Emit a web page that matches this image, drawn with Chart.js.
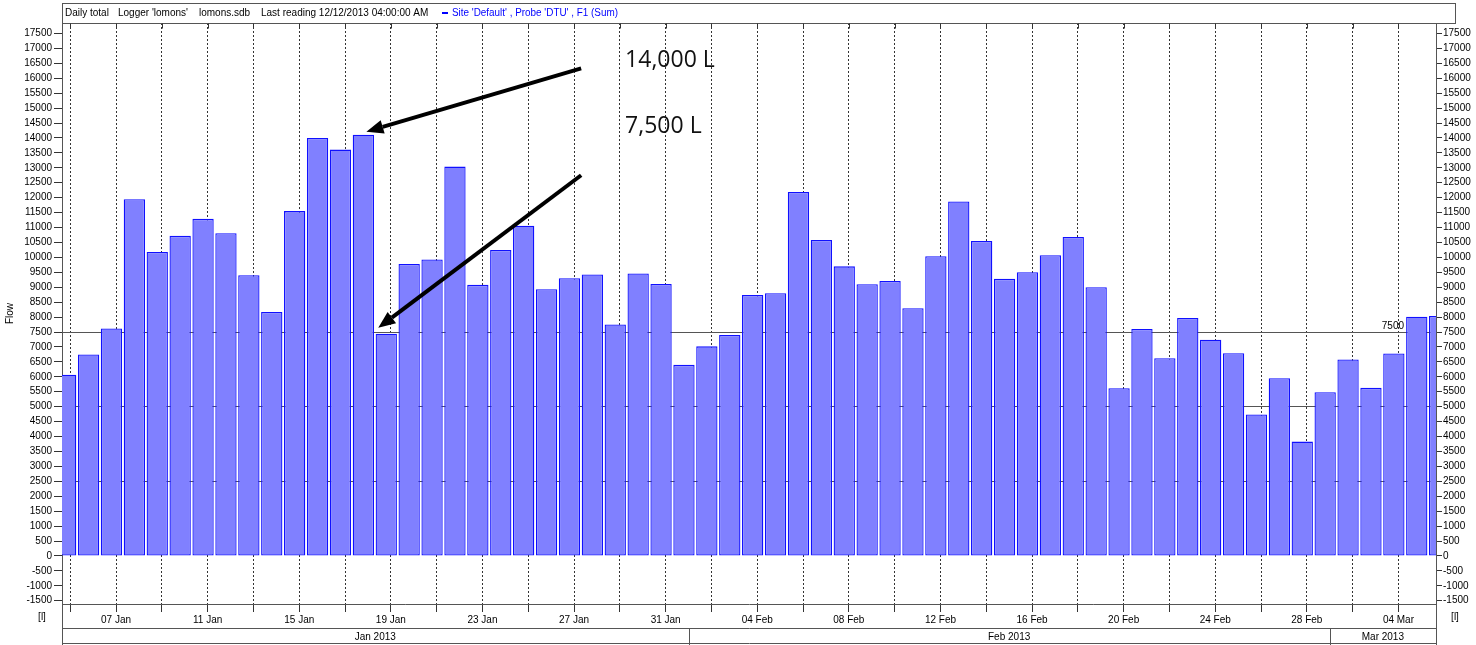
<!DOCTYPE html>
<html>
<head>
<meta charset="utf-8">
<title>Daily total - lomons</title>
<script src="https://cdn.jsdelivr.net/npm/chart.js@4.4.1/dist/chart.umd.min.js"></script>
<style>
html,body{margin:0;padding:0;background:#ffffff;}
#wrap{width:1476px;height:645px;}
</style>
</head>
<body>
<div id="wrap"><canvas id="flowChart" width="1476" height="645"></canvas></div>
<script>
// ===========================================
// DATA
// ===========================================

// Daily totals [l], one bar per day, first bar = 04 Jan 2013
const flow = [
    6070, 6750, 7620, 11950, 10180, 10720, 11290, 10810, 9400, 8170,
    11550, 14000, 13610, 14110, 7440, 9780, 9930, 13040, 9080, 10250,
    11060, 8930, 9300, 9430, 7750, 9460, 9110, 6400, 7020, 7400,
    8740, 8800, 12190, 10580, 9700, 9100, 9210, 8300, 10040, 11870,
    10550, 9280, 9500, 10070, 10680, 9000, 5620, 7600, 6620, 7970,
    7240, 6790, 4740, 5950, 3830, 5480, 6580, 5630, 6780, 8010,
    8040
];

// days after 01 Jan 2013
const FIRST_DAY = 3;
// logger day ends 04:00, bars sit right of midnight
const BAR_SHIFT = 0.8;

// visible x range (days after 01 Jan 2013)
const X_MIN = 3.64;
const X_MAX = 63.64;

// Y range
const Y_MIN = -1610;
const Y_MAX = 17850;

// Tick labels
const monthNames = ["Jan", "Feb", "Mar"];
const monthLabels = ["Jan 2013", "Feb 2013", "Mar 2013"];
const monthStarts = [0, 31, 59];

const yTicks = [];
for (let v = -1500; v <= 17500; v += 500) yTicks.push(v);

const xTicks = [];
for (let d = 4; d <= 62; d += 2) xTicks.push(d);

// Reference lines
const refLines = [2500, 5000, 7500];

// Annotations
const noteText = ["14,000 L", "7,500 L"];
const noteBar = [13, 14];

// ===========================================
// HELPERS
// ===========================================

function dayLabel(d){

    let m = 0;
    for (let i = 0; i < monthStarts.length; i++) {
        if (d >= monthStarts[i]) m = i;
    }
    const day = d - monthStarts[m] + 1;
    return (day < 10 ? "0" + day : "" + day) + " " + monthNames[m];

}

const bars = flow.map((v, i) => ({ x: FIRST_DAY + i + BAR_SHIFT, y: v }));

// ===========================================
// OVERLAY (header, month row, notes)
// ===========================================

const overlay = {

    id: "overlay",

    afterDraw(chart){

        const ctx = chart.ctx;
        const area = chart.chartArea;
        const x = chart.scales.x;
        const y = chart.scales.y;
        const H = chart.height;

        const L = Math.round(area.left) + 0.5;
        const R = Math.round(area.right) + 0.5;
        const T = Math.round(area.top) + 0.5;
        const B = Math.round(area.bottom) + 0.5;

        ctx.save();

        ctx.strokeStyle = "#555555";
        ctx.lineWidth = 1;

        // header box
        ctx.strokeRect(L, 3.5, R + 19 - L, T - 3.5);

        ctx.font = "10px 'Liberation Sans'";
        ctx.fillStyle = "#000000";
        ctx.textBaseline = "middle";
        ctx.textAlign = "left";

        ctx.fillText("Daily total", 65, 13.5);
        ctx.fillText("Logger 'lomons'", 118, 13.5);
        ctx.fillText("lomons.sdb", 199, 13.5);
        ctx.fillText("Last reading 12/12/2013 04:00:00 AM", 261, 13.5);

        ctx.fillStyle = "#0000ff";
        ctx.fillRect(442, 12, 6, 2);

        const series = "Site 'Default' , Probe 'DTU' , F1 (Sum)";
        const sw = ctx.measureText(series).width;
        ctx.save();
        ctx.translate(452, 13.5);
        ctx.scale(166 / sw, 1);
        ctx.fillText(series, 0, 0);
        ctx.restore();

        // top ticks
        ctx.strokeStyle = "#333333";
        ctx.beginPath();
        x.ticks.forEach(t => {
            const px = Math.round(x.getPixelForValue(t.value)) + 0.5;
            ctx.moveTo(px, T);
            ctx.lineTo(px, T + 5);
        });
        ctx.stroke();

        // side borders down to month row
        ctx.strokeStyle = "#555555";
        ctx.beginPath();
        ctx.moveTo(L, B);
        ctx.lineTo(L, H);
        ctx.moveTo(R, B);
        ctx.lineTo(R, H);
        ctx.moveTo(L, B + 24);
        ctx.lineTo(R, B + 24);
        ctx.moveTo(L, H - 1.5);
        ctx.lineTo(R, H - 1.5);
        ctx.stroke();

        // month row
        ctx.fillStyle = "#000000";
        ctx.textAlign = "center";
        for (let i = 0; i < monthStarts.length; i++) {
            let a = x.getPixelForValue(monthStarts[i]);
            let b = i + 1 < monthStarts.length ? x.getPixelForValue(monthStarts[i + 1]) : area.right;
            a = Math.max(a, area.left);
            b = Math.min(b, area.right);
            if (a > area.left + 1) {
                ctx.beginPath();
                ctx.moveTo(Math.round(a) + 0.5, B + 24);
                ctx.lineTo(Math.round(a) + 0.5, H);
                ctx.stroke();
            }
            ctx.fillText(monthLabels[i], (a + b) / 2, B + 32.5);
        }

        // unit labels
        ctx.fillText("[l]", area.left - 20, B + 13);
        ctx.fillText("[l]", area.right + 19, B + 13);

        // reference label
        ctx.textAlign = "right";
        ctx.fillText("7500", area.right - 32, y.getPixelForValue(7500) - 6);

        // ===============================
        // Notes with arrows
        // ===============================

        ctx.font = "23px 'Open Sans'";
        ctx.textAlign = "left";
        ctx.fillStyle = "#111111";
        ctx.fillText(noteText[0], x.getPixelForValue(28.23), y.getPixelForValue(16600));
        ctx.fillText(noteText[1], x.getPixelForValue(28.23), y.getPixelForValue(14390));

        const tips = [
            [x.getPixelForValue(bars[noteBar[0]].x) + 3, y.getPixelForValue(flow[noteBar[0]]) - 3],
            [x.getPixelForValue(bars[noteBar[1]].x) - 8, y.getPixelForValue(flow[noteBar[1]]) - 6]
        ];
        const starts = [
            [x.getPixelForValue(26.31), y.getPixelForValue(16330)],
            [x.getPixelForValue(26.31), y.getPixelForValue(12750)]
        ];

        ctx.strokeStyle = "#000000";
        ctx.fillStyle = "#000000";
        ctx.lineWidth = 4;
        ctx.lineCap = "butt";

        for (let i = 0; i < tips.length; i++) {
            const [sx, sy] = starts[i];
            const [tx, ty] = tips[i];
            const ang = Math.atan2(ty - sy, tx - sx);
            const head = 17;
            const half = 7;
            const bx = tx - head * Math.cos(ang);
            const by = ty - head * Math.sin(ang);

            ctx.beginPath();
            ctx.moveTo(sx, sy);
            ctx.lineTo(bx, by);
            ctx.stroke();

            ctx.beginPath();
            ctx.moveTo(tx, ty);
            ctx.lineTo(bx + half * Math.sin(ang), by - half * Math.cos(ang));
            ctx.lineTo(bx - half * Math.sin(ang), by + half * Math.cos(ang));
            ctx.closePath();
            ctx.fill();
        }

        ctx.restore();

    }

};

// ===========================================
// CHART
// ===========================================

Chart.defaults.font.family = "'Liberation Sans', Arial, sans-serif";
Chart.defaults.font.size = 10;
Chart.defaults.color = "#000000";

const flowChart = new Chart(
document.getElementById("flowChart"),
{

type: "bar",

data: {
    datasets: [{
        label: "Flow",
        data: bars,
        backgroundColor: "#8080ff",
        borderColor: "#1010ff",
        borderWidth: 1.3,
        borderSkipped: false,
        categoryPercentage: 0.93,
        barPercentage: 1
    }]
},

options: {

    responsive: false,
    devicePixelRatio: 1,
    animation: false,

    layout: {
        padding: { top: 23, left: 0, right: 0, bottom: 0 }
    },

    plugins: {
        legend: { display: false },
        tooltip: { enabled: false }
    },

    scales: {

        x: {
            type: "linear",
            position: "bottom",
            min: X_MIN,
            max: X_MAX,
            offset: false,
            afterBuildTicks: (axis) => {
                axis.ticks = xTicks.map(v => ({ value: v }));
            },
            afterFit: (axis) => { axis.height = 41; },
            grid: {
                offset: false,
                color: "#333333",
                tickColor: "#333333",
                tickLength: 8
            },
            border: {
                color: "#555555",
                dash: [2, 2]
            },
            ticks: {
                autoSkip: false,
                maxRotation: 0,
                padding: 2,
                callback: (v) => ((v - 6) % 4 === 0 ? dayLabel(v) : "")
            }
        },

        y: {
            position: "left",
            min: Y_MIN,
            max: Y_MAX,
            afterBuildTicks: (axis) => {
                axis.ticks = yTicks.map(v => ({ value: v }));
            },
            afterFit: (axis) => { axis.width = 62; },
            title: {
                display: true,
                text: "Flow",
                padding: { top: 4, bottom: 4 }
            },
            grid: {
                color: (c) => (c.tick && refLines.includes(c.tick.value) ? "#555555" : "rgba(0,0,0,0)"),
                tickColor: "#333333",
                tickLength: 8
            },
            border: { color: "#555555" },
            ticks: {
                padding: 2,
                callback: (v) => String(v)
            }
        },

        y2: {
            position: "right",
            min: Y_MIN,
            max: Y_MAX,
            afterBuildTicks: (axis) => {
                axis.ticks = yTicks.map(v => ({ value: v }));
            },
            afterFit: (axis) => { axis.width = 40; },
            grid: {
                drawOnChartArea: false,
                color: "#333333",
                tickLength: 6
            },
            border: { color: "#555555" },
            ticks: {
                padding: 1,
                callback: (v) => String(v)
            }
        }

    }

},

plugins: [overlay]

});
</script>
</body>
</html>
